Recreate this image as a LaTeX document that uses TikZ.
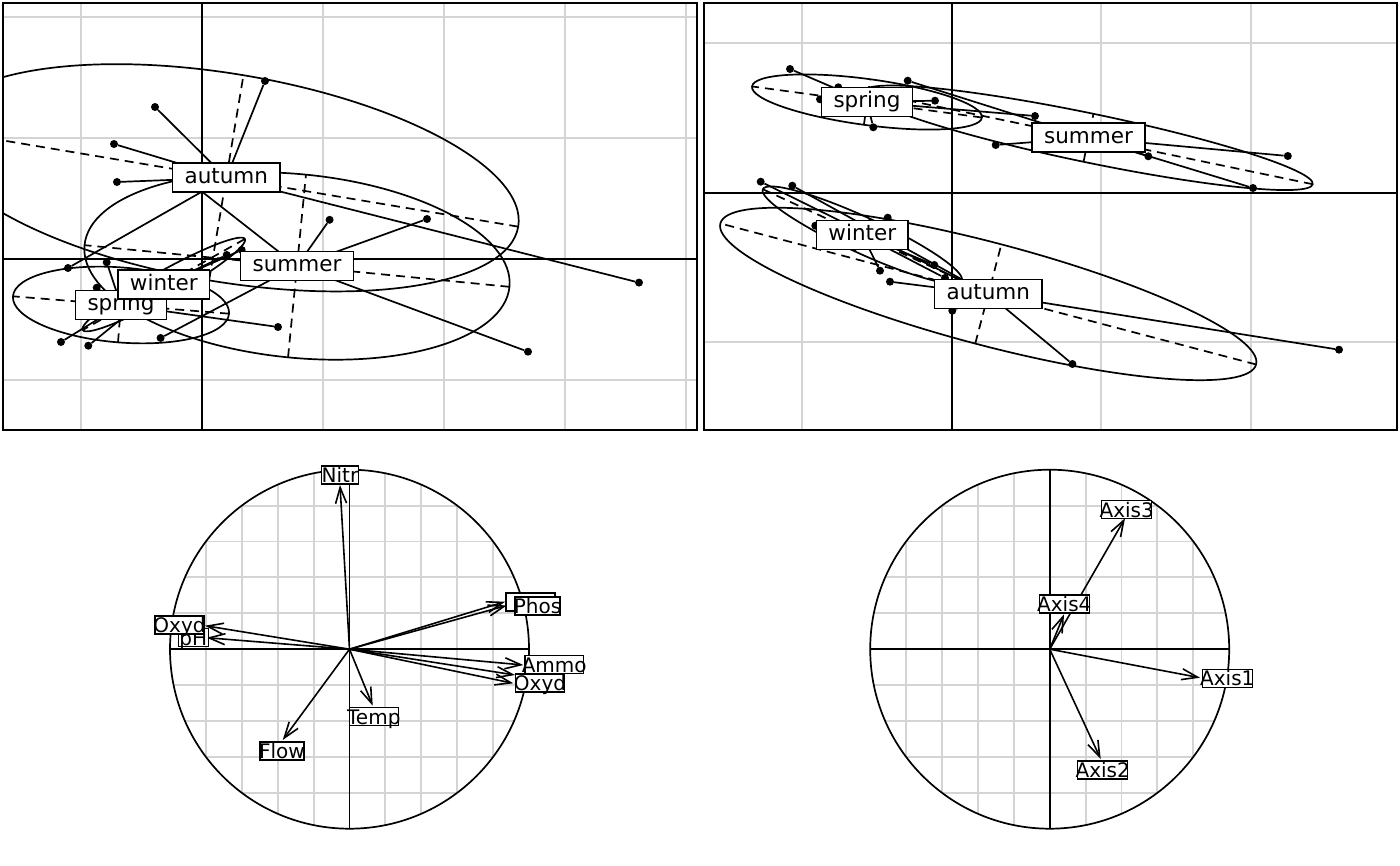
\documentclass[tikz,border=0pt]{standalone}
\usepackage{fontspec}
\setmainfont{DejaVu Sans}
\usetikzlibrary{calc, positioning, arrows.meta}
\definecolor{gridgrey}{RGB}{212,212,212}
\tikzstyle{gridline} = [gridgrey, line width=1.9pt]
\tikzstyle{axisline} = [black, line width=1.7pt]
\tikzstyle{frame} = [black, line width=1.8pt]
\tikzstyle{ell} = [black, line width=1.7pt]
\tikzstyle{elldash} = [black, line width=1.7pt, dash pattern=on 9pt off 6pt]
\tikzstyle{star} = [black, line width=1.7pt]
\tikzstyle{dot} = [circle, fill=black, inner sep=0pt, minimum size=8pt]
\tikzstyle{classlab} = [rectangle, draw=black, fill=white, line width=1.6pt, font=\fontsize{21.5}{24}\selectfont, inner xsep=12pt, inner ysep=4.5pt, text height=16pt, text depth=4pt]
\tikzstyle{corlab} = [rectangle, draw=black, fill=white, line width=1.5pt, font=\fontsize{20}{22}\selectfont, inner sep=0pt, minimum height=18pt, text height=15pt, text depth=0pt]
\tikzstyle{vec} = [black, line width=1.6pt, -{Straight Barb[length=16pt,width=11pt,line width=1.6pt]}]

% ellipse of one class: name, centre, semi-axes, tilt
\newcommand{\classellipse}[5]{
	\coordinate (#1Mid) at (#2);
	\draw[ell, rotate around={-#5:(#1Mid)}] (#1Mid) ellipse [x radius=#3, y radius=#4];
	\draw[elldash] ($(#1Mid)+(#5:#3)$) -- ($(#1Mid)+(#5+180:#3)$);
	\draw[elldash] ($(#1Mid)+(#5+90:#4)$) -- ($(#1Mid)+(#5-90:#4)$);
}
% points of one class joined to its centre
\newcommand{\classstar}[2]{
	\foreach \px/\py [count=\i] in {#2} {
		\node[dot] (#1Pt\i) at (\px,\py) {};
		\draw[star] (#1Mid) -- (#1Pt\i);
	}
}

\begin{document}
\begin{tikzpicture}[x=1pt, y=-1pt]
	\useasboundingbox (0,0) rectangle (1400,866);

	% top left panel
	\begin{scope}
		\clip (3,3) rectangle (697,430);
		\foreach \gx in {81,323,444,565,686} \draw[gridline] (\gx,3) -- (\gx,430);
		\foreach \gy in {17,138,380} \draw[gridline] (3,\gy) -- (697,\gy);
		\draw[axisline] (202,3) -- (202,430);
		\draw[axisline] (3,259) -- (697,259);
		\classellipse{AutumnA}{226.3,177.8}{296}{104}{9.5}
		\classellipse{SummerA}{297,266}{213.5}{91.8}{5.6}
		\classellipse{WinterA}{163.8,284.5}{93}{13}{-29.3}
		\classellipse{SpringA}{121,305}{108.4}{37.5}{4.6}
		\classstar{AutumnA}{265/81, 155/107, 114/144, 117/182, 68/268, 639/282.6}
		\classstar{SummerA}{329.6/219.8, 427/219, 528/351.7, 160.6/338, 182/176}
		\classstar{WinterA}{226.7/255, 241.7/250, 88.3/345.7}
		\classstar{SpringA}{61/342, 106.7/262.3, 96.7/287.7, 278/327}
		\node (AutumnA) [classlab] at (AutumnAMid) {autumn};
		\node (SummerA) [classlab] at (SummerAMid) {summer};
		\node (SpringA) [classlab] at (SpringAMid) {spring};
		\node (WinterA) [classlab] at (WinterAMid) {winter};
	\end{scope}
	\draw[frame] (3,3) rectangle (697,430);

	% top right panel
	\begin{scope}
		\clip (703.6,3) rectangle (1397,430);
		\foreach \gx in {802.4,1101,1251} \draw[gridline] (\gx,3) -- (\gx,430);
		\foreach \gy in {42.8,342.4} \draw[gridline] (703.6,\gy) -- (1397,\gy);
		\draw[axisline] (951.7,3) -- (951.7,430);
		\draw[axisline] (703.6,192.7) -- (1397,192.7);
		\classellipse{SpringB}{867,102}{116}{23}{7.7}
		\classellipse{SummerB}{1088.5,137.8}{229}{24.5}{11.7}
		\classellipse{WinterB}{862.3,235}{109.5}{18}{24.7}
		\classellipse{AutumnB}{988.3,294}{277}{51.3}{14.75}
		\classstar{SpringB}{790/69, 838.3/87.3, 820/99.3, 873.3/127.3, 935/100.7, 1035/116}
		\classstar{SummerB}{907.7/80.7, 995.7/145, 1148.3/156.3, 1287.8/156, 1253/188}
		\classstar{WinterB}{887.7/217.7, 815.3/225.7, 934.3/265, 880/270.7, 945/278}
		\classstar{AutumnB}{760.7/181.7, 792.3/185.7, 890/281.7, 952.3/310.7, 1072.4/364, 1339/349.7}
		\node (SpringB) [classlab] at (SpringBMid) {spring};
		\node (SummerB) [classlab] at (SummerBMid) {summer};
		\node (WinterB) [classlab] at (WinterBMid) {winter};
		\node (AutumnB) [classlab] at (AutumnBMid) {autumn};
	\end{scope}
	\draw[frame] (703.6,3) rectangle (1397,430);

	% bottom left circle
	\coordinate (CorA) at (349.5,649.2);
	\begin{scope}
		\clip (CorA) circle [radius=179.5];
		\foreach \k in {-4,...,4} {
			\draw[gridline] ($(CorA)+(\k*35.9,-180)$) -- ($(CorA)+(\k*35.9,180)$);
			\draw[gridline] ($(CorA)+(-180,\k*35.9)$) -- ($(CorA)+(180,\k*35.9)$);
		}
	\end{scope}
	\draw[axisline] (CorA) circle [radius=179.5];
	\draw[axisline] ($(CorA)+(-179.5,0)$) -- ($(CorA)+(179.5,0)$);
	\draw[axisline] ($(CorA)+(0,-179.5)$) -- ($(CorA)+(0,179.5)$);
	\coordinate (NitrTip) at (340,485);
	\coordinate (PhosTip) at (506.7,605.5);
	\coordinate (PhosBackTip) at (505,601.7);
	\coordinate (OxydLTip) at (205,625.7);
	\coordinate (pHTip) at (206.7,637.7);
	\coordinate (AmmoTip) at (523.3,665);
	\coordinate (OxydRTip) at (513.3,683.3);
	\coordinate (OxydBackTip) at (515,675);
	\coordinate (TempTip) at (372.7,705.7);
	\coordinate (FlowTip) at (282.7,740);
	\foreach \t in {NitrTip,PhosTip,PhosBackTip,OxydLTip,pHTip,AmmoTip,OxydRTip,OxydBackTip,TempTip,FlowTip}
		\draw[vec] (CorA) -- (\t);
	\node (Nitr) [corlab, minimum width=36.6pt] at (340,475) {\makebox[0pt]{Nitr}};
	\node (PhosBack) [corlab, minimum width=49pt] at (530.5,602) {};
	\node (Phos) [corlab, minimum width=45pt] at (537.5,606.2) {\makebox[0pt]{Phos}};
	\node (pH) [corlab, minimum width=30pt] at (193.3,637.5) {\makebox[0pt]{pH}};
	\node (OxydL) [corlab, minimum width=49pt] at (179.5,625.2) {\makebox[0pt]{Oxyd}};
	\node (Ammo) [corlab, minimum width=58.3pt] at (554.2,664.5) {\makebox[0pt]{Ammo}};
	\node (OxydR) [corlab, minimum width=48.6pt] at (540,683) {\makebox[0pt]{Oxyd}};
	\node (Temp) [corlab, minimum width=49pt] at (373.8,716.5) {\makebox[0pt]{Temp}};
	\node (Flow) [corlab, minimum width=44pt] at (282,751) {\makebox[0pt]{Flow}};

	% bottom right circle
	\coordinate (CorB) at (1049.7,649.2);
	\begin{scope}
		\clip (CorB) circle [radius=179.5];
		\foreach \k in {-4,...,4} {
			\draw[gridline] ($(CorB)+(\k*35.9,-180)$) -- ($(CorB)+(\k*35.9,180)$);
			\draw[gridline] ($(CorB)+(-180,\k*35.9)$) -- ($(CorB)+(180,\k*35.9)$);
		}
	\end{scope}
	\draw[axisline] (CorB) circle [radius=179.5];
	\draw[axisline] ($(CorB)+(-179.5,0)$) -- ($(CorB)+(179.5,0)$);
	\draw[axisline] ($(CorB)+(0,-179.5)$) -- ($(CorB)+(0,179.5)$);
	\coordinate (AxisATip) at (1200,677.7);
	\coordinate (AxisBTip) at (1100.7,759);
	\coordinate (AxisCTip) at (1125,518.3);
	\coordinate (AxisDTip) at (1064,614.3);
	\foreach \t in {AxisATip,AxisBTip,AxisCTip,AxisDTip}
		\draw[vec] (CorB) -- (\t);
	\node (AxisA) [corlab, minimum width=50pt] at (1227.3,678.3) {\makebox[0pt]{Axis1}};
	\node (AxisB) [corlab, minimum width=50pt] at (1102.7,769.8) {\makebox[0pt]{Axis2}};
	\node (AxisC) [corlab, minimum width=50pt] at (1126.7,509.5) {\makebox[0pt]{Axis3}};
	\node (AxisD) [corlab, minimum width=50pt] at (1064.3,604.2) {\makebox[0pt]{Axis4}};
\end{tikzpicture}
\end{document}
